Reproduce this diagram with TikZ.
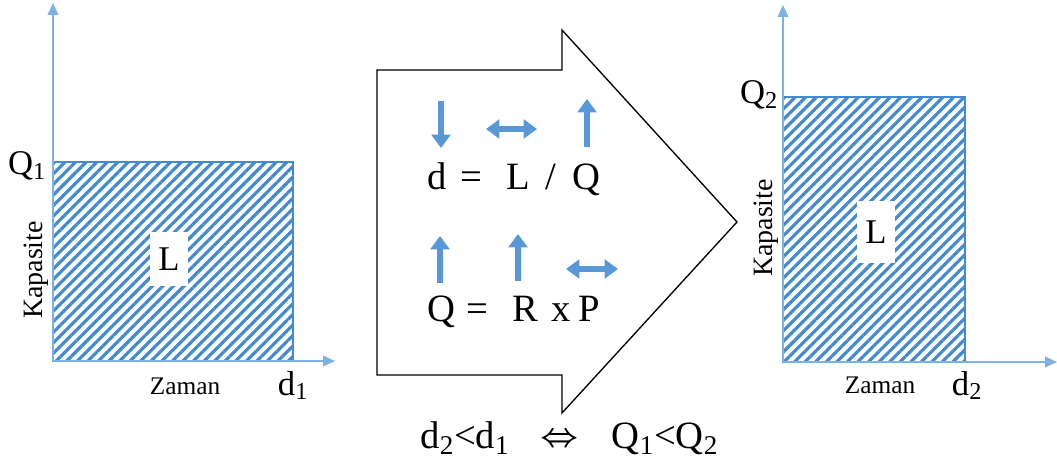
\documentclass[tikz,border=0pt]{standalone}
\usepackage{fontspec}
\setmainfont{Liberation Serif}
\usepackage{amsmath,amssymb}
\usepackage{xcolor}
\usetikzlibrary{arrows.meta,patterns.meta}

\definecolor{axisblue}{RGB}{125,178,228}
\definecolor{hatchblue}{RGB}{68,138,208}
\definecolor{cueblue}{RGB}{88,152,215}

\begin{document}
\begin{tikzpicture}[
		x=0.75pt, y=-0.75pt,
		axis/.style={
			draw=axisblue,
			line width=1.2pt,
			-{Triangle[length=9pt,width=8pt]}
		},
		loadbox/.style={
			draw=hatchblue,
			line width=1pt,
			pattern={Lines[angle=45,distance=5.6pt,line width=2.4pt]},
			pattern color=hatchblue
		},
		loadlabel/.style={
			fill=white,
			inner sep=0pt,
			minimum width=28pt,
			minimum height=40pt,
			font=\fontsize{26}{30}\selectfont
		},
		axlabel/.style={
			inner sep=0pt,
			font=\fontsize{19}{22}\selectfont
		},
		biglabel/.style={
			inner sep=0pt,
			anchor=base,
			font=\fontsize{26}{30}\selectfont
		},
		eqlabel/.style={
			biglabel,
			font=\fontsize{29}{34}\selectfont
		},
		cue/.style={
			draw=cueblue,
			line width=3.8pt,
			-{Triangle[length=10pt,width=14pt]}
		},
		cuepair/.style={
			draw=cueblue,
			line width=3.8pt,
			{Triangle[length=10pt,width=14pt]}-{Triangle[length=10pt,width=14pt]}
		}
		]
		
		\useasboundingbox (0,0) rectangle (1057,470);
		
		\coordinate (o1) at (53,361);
		\coordinate (c1) at (293,162);
		\coordinate (ytip1) at (53,3);
		\coordinate (xtip1) at (335,361);
		
		\draw[loadbox] (o1) rectangle (c1);
		\draw[axis] (o1) -- (ytip1);
		\draw[axis] (o1) -- (xtip1);
		
		\node[loadlabel] (load1) at (169,259) {L};
		\node[biglabel] (q1lab) at (27,175) {Q\textsubscript{1}};
		\node[biglabel] (d1lab) at (293,395) {d\textsubscript{1}};
		\node[axlabel, anchor=base] (time1) at (185,394) {Zaman};
		\node[axlabel, rotate=90, font=\fontsize{21}{24}\selectfont] (cap1) at (36,270) {Kapasite};
		
		\coordinate (o2) at (783,362);
		\coordinate (c2) at (965,97);
		\coordinate (ytip2) at (783,5);
		\coordinate (xtip2) at (1057,362);
		
		\draw[loadbox] (o2) rectangle (c2);
		\draw[axis] (o2) -- (ytip2);
		\draw[axis] (o2) -- (xtip2);
		
		\node[loadlabel, minimum height=46pt] (load2) at (876,232) {L};
		\node[biglabel] (q2lab) at (759,104) {Q\textsubscript{2}};
		\node[biglabel] (d2lab) at (967,395) {d\textsubscript{2}};
		\node[axlabel, anchor=base] (time2) at (880,393) {Zaman};
		\node[axlabel, rotate=90, font=\fontsize{21}{24}\selectfont] (cap2) at (766,228) {Kapasite};
		
		\draw[black, line width=1pt, line join=miter]
		(377,70) -- (562,70) -- (562,30) -- (737,222) -- (562,413) -- (562,375) -- (377,375) -- cycle;
		
		\node[eqlabel] (eqd) at (437,190) {d};
		\node[eqlabel] (eqeq1) at (471,190) {=};
		\node[eqlabel] (eql) at (518,190) {L};
		\node[eqlabel] (eqslash) at (551,190) {/};
		\node[eqlabel] (eqq) at (586,190) {Q};
		
		\node[eqlabel] (eqq2) at (441,322) {Q};
		\node[eqlabel] (eqeq2) at (477,322) {=};
		\node[eqlabel] (eqr) at (525,322) {R};
		\node[eqlabel] (eqx) at (561,322) {x};
		\node[eqlabel] (eqp) at (589,322) {P};
		
		\draw[cue] (441,101) -- (441,148);
		\draw[cuepair] (486,129) -- (537,129);
		\draw[cue] (587,147) -- (587,99);
		
		\draw[cue] (440,283) -- (440,236);
		\draw[cue] (518,281) -- (518,234);
		\draw[cuepair] (566,269) -- (618,269);
		
		\node[eqlabel] (lhs) at (465,448) {d\textsubscript{2}<d\textsubscript{1}};
		\node[eqlabel, font=\fontsize{30}{36}\selectfont] (iff) at (560,446) {$\boldsymbol{\Leftrightarrow}$};
		\node[eqlabel] (rhs) at (665,448) {Q\textsubscript{1}<Q\textsubscript{2}};
		
	\end{tikzpicture}
\end{document}
